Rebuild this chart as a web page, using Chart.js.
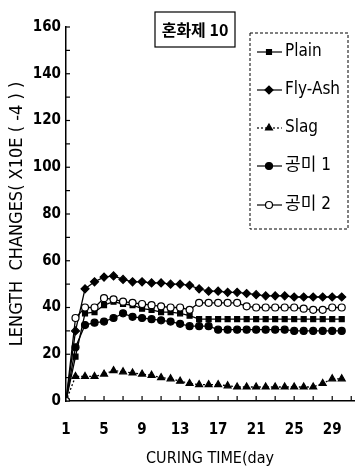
<!DOCTYPE html>
<html>
<head>
<meta charset="utf-8">
<script src="https://cdn.jsdelivr.net/npm/chart.js@4.4.1/dist/chart.umd.min.js"></script>
<style>
  html, body { margin: 0; padding: 0; background: #fff; }
  #wrap { width: 362px; height: 474px; position: relative; }
</style>
</head>
<body>
<div id="wrap"><canvas id="container" width="362" height="474"></canvas></div>
<script>
const DAYS = [1, 2, 3, 4, 5, 6, 7, 8, 9, 10, 11, 12, 13, 14, 15, 16, 17, 18, 19, 20, 21, 22, 23, 24, 25, 26, 27, 28, 29, 30];
const X_TICKS = [1, 3, 5, 7, 9, 11, 13, 15, 17, 19, 21, 23, 25, 27, 29, 31];
const X_LABELS = [1, 5, 9, 13, 17, 21, 25, 29];

const PLAIN = [0, 19, 37.5, 38, 41, 42.5, 41.5, 41, 39.5, 39, 38, 38, 37.5, 36.5, 35, 35, 35, 35, 35, 35, 35, 35, 35, 35, 35, 35, 35, 35, 35, 35];
const FLY_ASH = [0, 30, 48, 51, 53, 53.5, 52, 51, 51, 50.5, 50.5, 50, 50, 49.5, 48, 47, 47, 46.5, 46.5, 46, 45.5, 45, 45, 45, 44.5, 44.5, 44.5, 44.5, 44.5, 44.5];
const SLAG = [0, 10.5, 10.5, 10.5, 11.5, 13, 12.5, 12, 11.5, 11, 10, 9.5, 8.5, 7.5, 7, 7, 7, 6.5, 6, 6, 6, 6, 6, 6, 6, 6, 6, 7.5, 9.5, 9.5];
const GONGMI_1 = [0, 23, 32.5, 33.5, 34, 35.5, 37.5, 36, 35.5, 35, 34.5, 34, 33, 32, 32, 32, 30.5, 30.5, 30.5, 30.5, 30.5, 30.5, 30.5, 30.5, 30, 30, 30, 30, 30, 30];
const GONGMI_2 = [0, 35.5, 40, 40, 44, 43.5, 42.5, 42, 41.5, 41, 40.5, 40, 40, 39, 42, 42, 42, 42, 42, 40.5, 40, 40, 40, 40, 40, 39.5, 39, 39, 40, 40];

const SERIES_NAMES = ["Plain", "Fly-Ash", "Slag", "공미 1", "공미 2"];
const BOX_TITLE = "혼화제 10";
const X_TITLE = "CURING TIME(day";
const Y_TITLE = "LENGTH  CHANGES( X10E ( -4 ) )";

const NARROW = "'Liberation Sans Narrow', 'Arial Narrow', 'DejaVu Sans Condensed', 'Noto Sans CJK KR', sans-serif";

const toPoints = (values) => values.map((v, i) => ({ x: DAYS[i], y: v }));

const styles = [
  { pointStyle: "rect", radius: 3.5, fill: "#000", dash: [] },
  { pointStyle: "rectRot", radius: 4, fill: "#000", dash: [] },
  { pointStyle: "triangle", radius: 4, fill: "#000", dash: [2, 2] },
  { pointStyle: "circle", radius: 3.5, fill: "#000", dash: [] },
  { pointStyle: "circle", radius: 3.5, fill: "#fff", dash: [] },
];

const allValues = [PLAIN, FLY_ASH, SLAG, GONGMI_1, GONGMI_2];

const datasets = allValues.map((vals, i) => ({
  label: SERIES_NAMES[i],
  data: toPoints(vals),
  borderColor: "#000",
  borderWidth: 1.3,
  borderDash: styles[i].dash,
  pointStyle: styles[i].pointStyle,
  pointRadius: styles[i].radius,
  pointBackgroundColor: styles[i].fill,
  pointBorderColor: "#000",
  pointBorderWidth: 1.2,
  tension: 0,
  order: i === 4 ? 0 : 1,
}));

// inward tick marks on both axes
const innerTicks = {
  id: "innerTicks",
  afterDraw(chart) {
    const ctx = chart.ctx;
    const xs = chart.scales.x, ys = chart.scales.y;
    ctx.save();
    ctx.strokeStyle = "#000";
    ctx.lineWidth = 1.2;
    X_TICKS.forEach((v) => {
      const px = xs.getPixelForValue(v);
      ctx.beginPath();
      ctx.moveTo(px, ys.bottom);
      ctx.lineTo(px, ys.bottom - 5);
      ctx.stroke();
    });
    ys.ticks.forEach((t) => {
      const py = ys.getPixelForValue(t.value);
      ctx.beginPath();
      ctx.moveTo(xs.left, py);
      ctx.lineTo(xs.left + 4, py);
      ctx.stroke();
    });
    ctx.restore();
  },
};

// boxed legend and title label inside the plot
const boxLegend = {
  id: "boxLegend",
  afterDraw(chart) {
    const ctx = chart.ctx;
    ctx.save();
    ctx.strokeStyle = "#000";
    ctx.lineWidth = 1.2;
    ctx.setLineDash([]);
    ctx.strokeRect(155, 12, 80, 35);
    ctx.fillStyle = "#000";
    ctx.font = "bold 16px 'Noto Sans CJK KR', sans-serif";
    ctx.textAlign = "center";
    ctx.textBaseline = "middle";
    ctx.fillText(BOX_TITLE, 195, 30);

    ctx.setLineDash([3, 2]);
    ctx.lineWidth = 1;
    ctx.strokeRect(250, 33, 98, 196);

    const rows = [52, 90, 128, 166, 205];
    chart.data.datasets.forEach((ds, i) => {
      const y = rows[i];
      ctx.setLineDash(ds.borderDash || []);
      ctx.lineWidth = 1.2;
      ctx.strokeStyle = "#000";
      ctx.beginPath();
      ctx.moveTo(257, y);
      ctx.lineTo(282, y);
      ctx.stroke();
      ctx.setLineDash([]);
      ctx.fillStyle = ds.pointBackgroundColor;
      Chart.helpers.drawPoint(ctx, {
        pointStyle: ds.pointStyle,
        radius: ds.pointRadius,
        rotation: 0,
        borderWidth: 1.2,
      }, 269, y);
      ctx.fillStyle = "#000";
      ctx.font = "17px " + NARROW;
      ctx.textAlign = "left";
      ctx.textBaseline = "middle";
      ctx.fillText(ds.label, 285, y);
    });
    ctx.restore();
  },
};

new Chart(document.getElementById("container"), {
  type: "line",
  data: { datasets: datasets },
  plugins: [innerTicks, boxLegend],
  options: {
    responsive: false,
    animation: false,
    layout: { padding: { top: 27, right: 2, bottom: 0, left: 0 } },
    plugins: {
      legend: { display: false },
      tooltip: { enabled: false },
    },
    scales: {
      x: {
        type: "linear",
        min: 1,
        max: 31.3,
        afterBuildTicks: (s) => { s.ticks = X_LABELS.map((v) => ({ value: v })); },
        afterFit: (s) => { s.height = 73; },
        grid: { display: false, drawTicks: false },
        border: { display: true, color: "#000", width: 1.5 },
        ticks: {
          autoSkip: false,
          maxRotation: 0,
          padding: 20,
          color: "#000",
          font: { family: NARROW, size: 15, weight: "bold" },
        },
        title: {
          display: true,
          text: X_TITLE,
          color: "#000",
          font: { family: NARROW, size: 16 },
          padding: { top: 0, bottom: 6 },
        },
      },
      y: {
        min: 0,
        max: 160,
        afterFit: (s) => { s.width = 66; },
        grid: { display: false, drawTicks: false },
        border: { display: true, color: "#000", width: 1.5 },
        ticks: {
          stepSize: 10,
          autoSkip: false,
          padding: 5,
          color: "#000",
          font: { family: NARROW, size: 15, weight: "bold" },
          callback: (v) => (v % 20 === 0 ? String(v) : ""),
        },
        title: {
          display: true,
          text: Y_TITLE,
          color: "#000",
          font: { family: NARROW, size: 18 },
          padding: { top: 7, bottom: 0 },
        },
      },
    },
  },
});
</script>
</body>
</html>
